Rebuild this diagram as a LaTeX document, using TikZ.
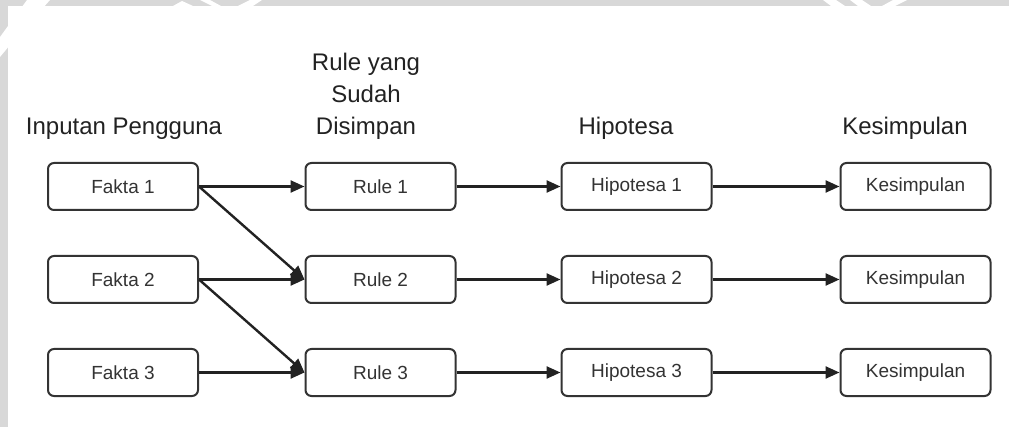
\documentclass[tikz,border=0pt]{standalone}
\usepackage{fontspec}
\setmainfont{Liberation Sans}
\usetikzlibrary{arrows.meta}
\definecolor{ink}{HTML}{222222}
\definecolor{boxline}{HTML}{333333}
\definecolor{band}{HTML}{D8D8D8}
\begin{document}
\begin{tikzpicture}[x=1pt,y=-1pt,
  stagebox/.style={draw=boxline, line width=2pt, rounded corners=6pt,
    minimum width=150pt, minimum height=47pt, inner sep=0pt,
    font=\fontsize{19}{22}\selectfont, text=boxline, fill=white},
  colhead/.style={font=\fontsize{24}{32}\selectfont, text=ink, anchor=base, inner sep=0pt},
  flow/.style={draw=ink, line width=2.4pt,
    -{Triangle[length=14pt,width=12pt]}, shorten <=0pt}
]
% page frame
\useasboundingbox (0,0) rectangle (1009,427);
\fill[white] (0,0) rectangle (1009,427);
% grey border band along the top and left edges
\fill[band] (0,0) rectangle (1009,6);
\fill[band] (0,0) rectangle (7.5,427);
\fill[white] (27,0) -- (50,0) -- (7.5,48) -- (0,57) -- (0,37) -- cycle;
\fill[white] (173,6) -- (182,1) -- (193,6) -- cycle;
\fill[white] (200,0) -- (210,0) -- (221,6) -- (212,6) -- cycle;
\fill[white] (238,6) -- (253,6) -- (262,0) -- (250,0) -- cycle;
\fill[white] (823,0) -- (836,0) -- (845,6) -- (831,6) -- cycle;
\fill[white] (850,0) -- (862,0) -- (871,6) -- (858,6) -- cycle;
\fill[white] (882,6) -- (895,6) -- (907,0) -- (893,0) -- cycle;

% column headings
\node[colhead] (h1) at (124,135) {Inputan Pengguna};
\node[colhead, align=center] (h2) at (366,135) {Rule yang\\Sudah\\Disimpan};
\node[colhead] (h3) at (626,135) {Hipotesa};
\node[colhead] (h4) at (905,135) {Kesimpulan};

% boxes
\foreach \i/\y in {1/186.5, 2/279.5, 3/372.5} {
  \node[stagebox] (f\i) at (123,\y) {Fakta \i};
  \node[stagebox] (r\i) at (380.5,\y) {Rule \i};
  \node[stagebox] (p\i) at (636.5,\y) {Hipotesa \i};
  \node[stagebox] (k\i) at (915.5,\y) {Kesimpulan};
}

% connectors
\draw[flow] (f1.east) -- (r1.west);
\draw[flow] (f1.east) -- (r2.west);
\draw[flow] (f2.east) -- (r2.west);
\draw[flow] (f2.east) -- (r3.west);
\draw[flow] (f3.east) -- (r3.west);
\foreach \i in {1,2,3} {
  \draw[flow] (r\i.east) -- (p\i.west);
  \draw[flow] (p\i.east) -- (k\i.west);
}
\end{tikzpicture}
\end{document}
